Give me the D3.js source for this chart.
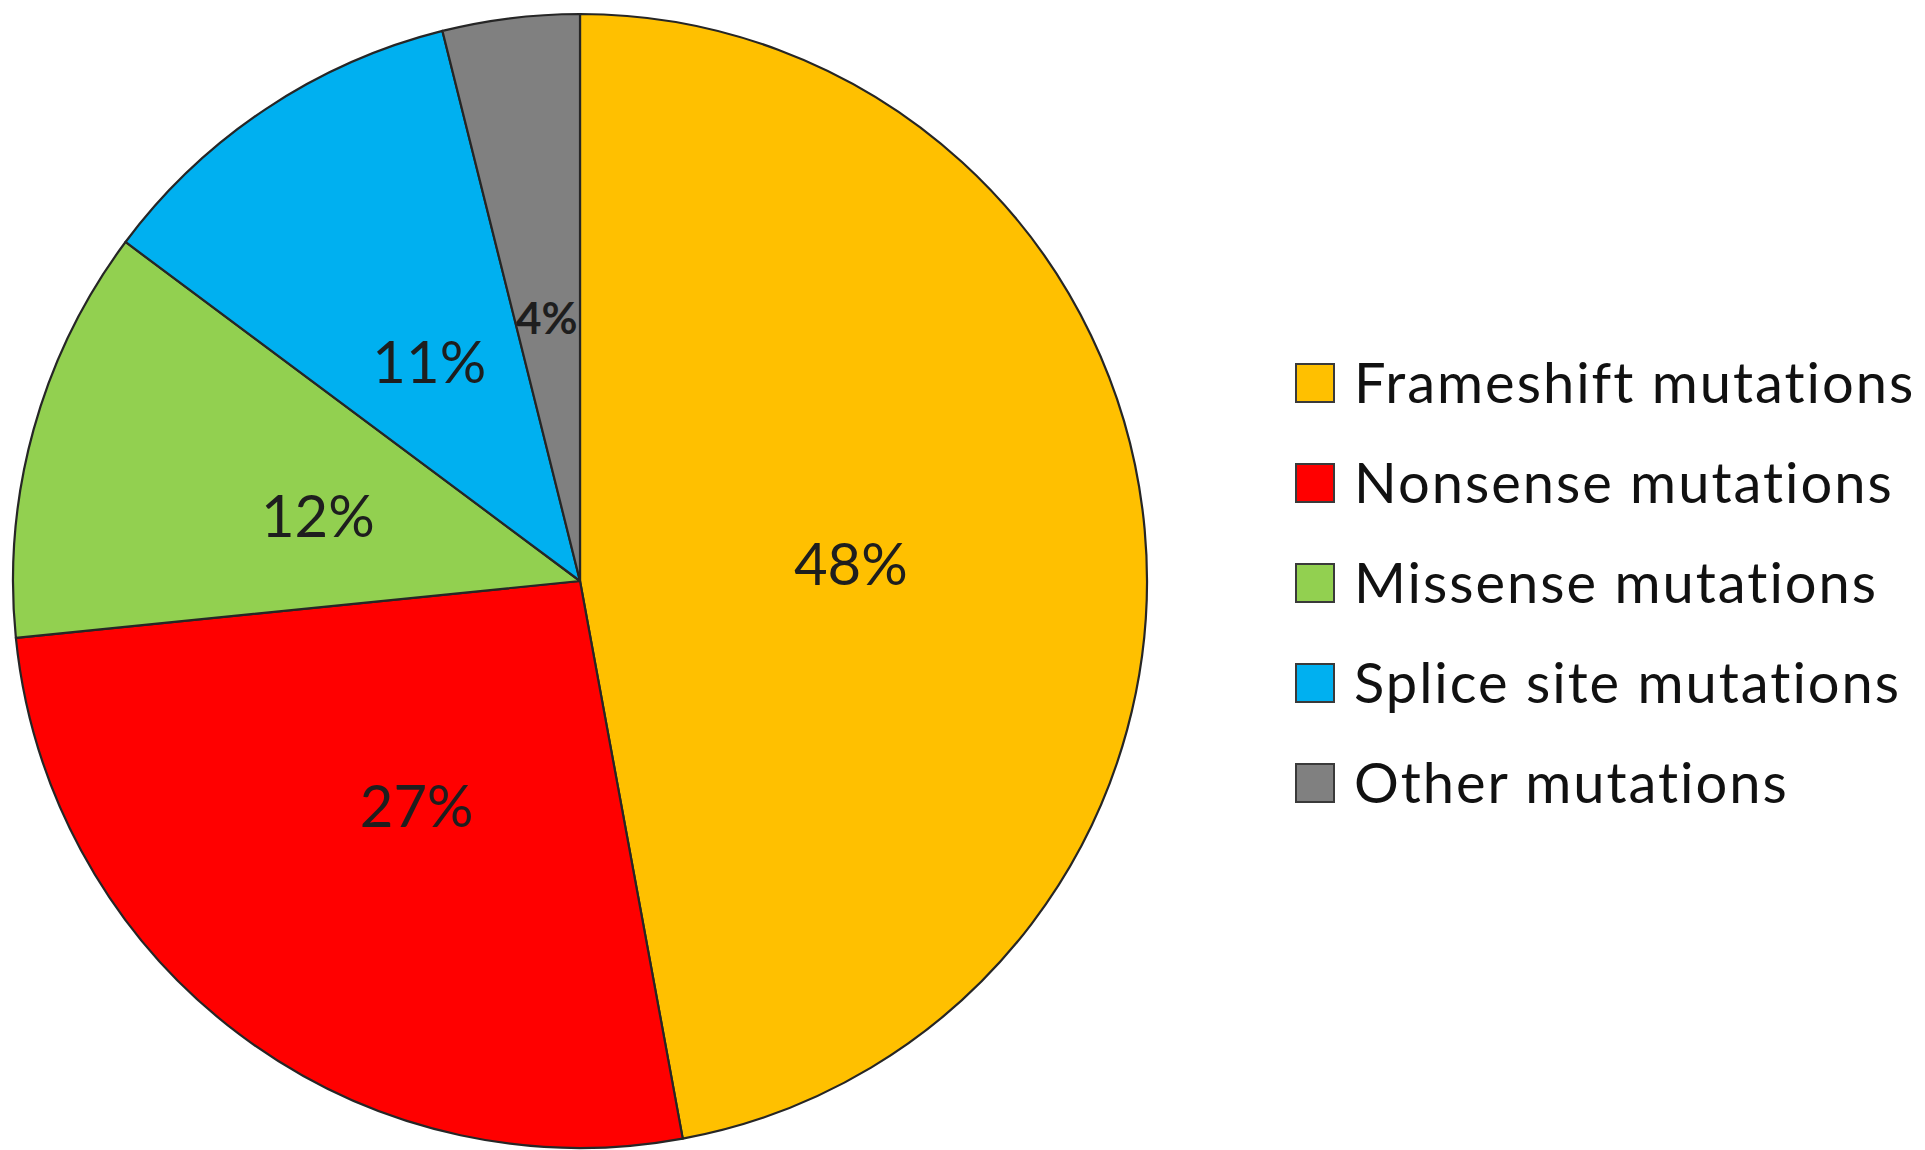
<!DOCTYPE html>
<html>
<head>
<meta charset="utf-8">
<script src="https://cdn.jsdelivr.net/npm/d3@7"></script>
<style>
  html, body { margin: 0; padding: 0; background: #fff; }
  svg { display: block; }
  text { font-family: Lato, "Open Sans", sans-serif; font-variant-ligatures: none; }
</style>
</head>
<body>
<svg id="chart" width="1925" height="1150"></svg>
<script>
const categories = [
  'Frameshift mutations',
  'Nonsense mutations',
  'Missense mutations',
  'Splice site mutations',
  'Other mutations'
];
const values = [47.1, 26.3, 11.8, 10.9, 3.9]; // slice sizes
const labels = ['48%', '27%', '12%', '11%', '4%']; // printed labels
const colors = ['#ffc000', '#ff0000', '#92d050', '#00b0f0', '#808080'];

const CX = 580;
const CY = 581;
const R = 567;
const LABEL_R = 272;

const svg = d3.select('#chart');
const g = svg.append('g').attr('transform', `translate(${CX}, ${CY})`);

const pie = d3.pie().sort(null).value(d => d.value);
const data = pie(values.map((v, i) => ({ value: v, name: categories[i], label: labels[i], color: colors[i] })));

const arc = d3.arc().innerRadius(0).outerRadius(R);
const labelArc = d3.arc().innerRadius(LABEL_R).outerRadius(LABEL_R);

g.selectAll('path.slice')
  .data(data)
  .enter()
  .append('path')
  .attr('class', 'slice')
  .attr('d', arc)
  .attr('fill', d => d.data.color)
  .attr('stroke', '#262626')
  .attr('stroke-width', 2.2)
  .attr('stroke-linejoin', 'round');

g.selectAll('text.pct')
  .data(data)
  .enter()
  .append('text')
  .attr('class', 'pct')
  .attr('transform', d => `translate(${labelArc.centroid(d)})`)
  .attr('dy', 6)
  .attr('text-anchor', 'middle')
  .attr('dominant-baseline', 'central')
  .attr('font-size', d => (d.data.value < 5 ? 44 : 58))
  .attr('font-weight', d => (d.data.value < 5 ? 700 : 400))
  .attr('fill', '#1e1e1e')
  .text(d => d.data.label);

// legend
const LEG_X = 1296;
const LEG_Y = 383;
const ROW = 100;
const SW = 38;

const legend = svg.append('g').attr('transform', `translate(${LEG_X}, ${LEG_Y})`);
const items = legend.selectAll('g.item')
  .data(categories)
  .enter()
  .append('g')
  .attr('class', 'item')
  .attr('transform', (d, i) => `translate(0, ${i * ROW})`);

items.append('rect')
  .attr('x', 0)
  .attr('y', -SW / 2)
  .attr('width', SW)
  .attr('height', SW)
  .attr('fill', (d, i) => colors[i])
  .attr('stroke', '#3a3a3a')
  .attr('stroke-width', 2);

items.append('text')
  .attr('x', 58)
  .attr('y', 20)
  .attr('font-size', 56)
  .attr('letter-spacing', 2)
  .attr('fill', '#111')
  .text(d => d);
</script>
</body>
</html>
